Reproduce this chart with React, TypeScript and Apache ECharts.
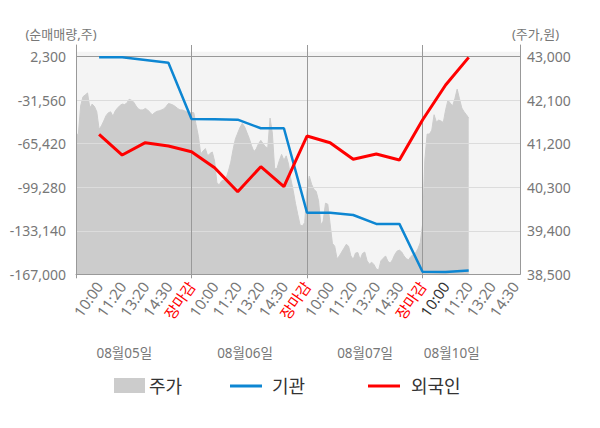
import React, { useEffect, useRef } from "react";
import * as echarts from "echarts";

// ---- data ----
const timeLabels = ["10:00", "11:20", "13:20", "14:30", "장마감"];
const dayLabels = ["08월05일", "08월06일", "08월07일", "08월10일"];
const slotsPerDay = 5;
const legendNames = ["주가", "기관", "외국인"];
const leftTicks = [-167000, -133140, -99280, -65420, -31560, 2300];
const rightTicks = [38500, 39400, 40300, 41200, 42100, 43000];

// net buying (shares) at each time slot, starting with 08/05 10:00
const institution = [
  1900, 1800, -270, -2370, -46170,
  -46400, -46700, -53400, -53400, -119070,
  -119070, -120860, -127800, -127800, -164970,
  -165200, -164000,
];
const foreign = [
  -58070, -74200, -64600, -67200, -71600,
  -84060, -102730, -83280, -98840, -59400,
  -64600, -77530, -73400, -78070, -46950,
  -19700, 1800,
];

// share price (KRW), sampled every 0.1 slot from 08/05 09:00
const priceStep = 0.1;
const price = [
  41420, 41380, 41980, 42170, 42210, 42250, 41940, 42020, 41970, 41860,
  41500, 41570, 41670, 41780, 41840, 41860, 41770, 41880, 41940, 41990,
  42020, 42010, 42040, 42120, 42100, 42060, 41980, 41920, 41900, 41900,
  41930, 41900, 41850, 41800, 41840, 41870, 41880, 41900, 41920, 41970,
  42030, 42020, 42000, 41970, 41930, 41900, 41900, 41880, 41860, 41830,
  41850, 41840, 41590, 41350, 40990, 41050, 41100, 40950, 41000, 41030,
  40840, 40390, 40350, 40430, 40450, 40490, 40640, 40820, 41080, 41300,
  41420, 41540, 41620, 41550, 41430, 41310, 41160, 41040, 41090, 41200,
  41270, 41200, 41140, 41110, 41730, 41420, 40680, 40690, 40850, 40980,
  40860, 40950, 40780, 40470, 40240, 39970, 39740, 39520, 39500, 39570,
  40240, 40530, 40360, 40260, 40210, 40020, 39520, 39600, 39970, 39950,
  39540, 39140, 39080, 38820, 38880, 38960, 39040, 39120, 39080, 38880,
  38810, 38940, 38950, 38800, 38930, 38960, 38780, 38710, 38750, 38700,
  38610, 38590, 38780, 38830, 38880, 38770, 38730, 38800, 38910, 38980,
  39000, 38960, 38880, 38820, 38800, 38870, 38910, 38940, 39030, 39150,
  39520, 40860, 41400, 41400, 41480, 41800, 41650, 41690, 41670, 41640,
  41900, 42100, 42040, 41980, 42130, 42330, 42130, 41940, 41860, 41800,
  41730,
];

const FONT = "'Noto Sans', 'Noto Sans CJK KR', sans-serif";
const BLUE = "#0d86d2";
const RED = "#ff0000";
const AREA = "#cccccc";
const AXIS = "#999999";
const LABEL = "#777777";

export default function App() {
  const ref = useRef<HTMLDivElement>(null);

  useEffect(() => {
    if (!ref.current) return;
    const chart = echarts.init(ref.current, undefined, { renderer: "svg" });

    const leftInterval = leftTicks[1] - leftTicks[0];
    const rightInterval = rightTicks[1] - rightTicks[0];
    const boundaries = [1, 2, 3].map((d) => d * slotsPerDay);

    const xLabel = (v: number) => {
      const s = Math.round(v);
      if (Math.abs(v - s) > 1e-6 || s <= 0) return "";
      const slot = (s - 1) % slotsPerDay;
      const text = timeLabels[slot];
      if (slot === slotsPerDay - 1) return `{close|${text}}`;
      if (s === 3 * slotsPerDay + 1) return `{today|${text}}`;
      return text;
    };

    const textEl = (text: string, x: number, y: number, align: string, size: number, color: string) => ({
      type: "text",
      silent: true,
      style: {
        text, x, y,
        textAlign: align, align,
        textVerticalAlign: "middle", verticalAlign: "middle",
        fill: color, fontSize: size, fontFamily: FONT,
      },
    });

    const option: any = {
      animation: false,
      textStyle: { fontFamily: FONT },
      grid: { left: 76, right: 80, top: 45, bottom: 153.7, containLabel: false },
      xAxis: {
        type: "value",
        min: 0,
        max: 19.22,
        interval: 1,
        z: 1.5,
        axisLine: { show: true, onZero: false, lineStyle: { color: AXIS, width: 1 } },
        axisTick: { show: true, customValues: [0, ...boundaries], length: 4, lineStyle: { color: AXIS } },
        splitLine: { show: false },
        axisLabel: {
          rotate: 55,
          margin: 9,
          fontSize: 15,
          color: LABEL,
          fontFamily: FONT,
          formatter: xLabel,
          rich: {
            close: { color: RED, fontSize: 15, fontFamily: FONT },
            today: { color: "#333333", fontSize: 15, fontFamily: FONT },
          },
        },
      },
      yAxis: [
        {
          type: "value",
          position: "left",
          min: leftTicks[0],
          max: 11403,
          interval: leftInterval,
          z: 1.5,
          axisLine: { show: true, onZero: false, lineStyle: { color: AXIS } },
          axisTick: { show: false },
          axisLabel: {
            margin: 10,
            fontSize: 14,
            color: LABEL,
            fontFamily: FONT,
            formatter: (v: number) => (v > leftTicks[leftTicks.length - 1] + 1 ? "" : v.toLocaleString("en-US")),
          },
          splitLine: {
            show: true,
            showMaxLine: false,
            lineStyle: { color: ["#dcdcdc", "#dcdcdc", "#dcdcdc", "#dcdcdc", "#dcdcdc", AXIS], width: 1 },
          },
        },
        {
          type: "value",
          position: "right",
          min: rightTicks[0],
          max: 43242,
          interval: rightInterval,
          z: 1.5,
          axisLine: { show: true, onZero: false, lineStyle: { color: AXIS } },
          axisTick: { show: false },
          axisLabel: {
            margin: 7,
            fontSize: 14,
            color: LABEL,
            fontFamily: FONT,
            formatter: (v: number) => (v > rightTicks[rightTicks.length - 1] + 1 ? "" : v.toLocaleString("en-US")),
          },
          splitLine: { show: false },
        },
      ],
      graphic: [
        {
          type: "rect",
          z: -1,
          silent: true,
          shape: { x: 76, y: 51.7, width: 444, height: 222.6 },
          style: { fill: "#f4f4f4" },
        },
        textEl("(순매매량,주)", 61, 34, "center", 13, LABEL),
        textEl("(주가,원)", 535.5, 34, "center", 13, LABEL),
        ...dayLabels.map((t, i) => textEl(t, [124.3, 245, 365, 451.7][i], 353, "center", 13.5, LABEL)),
        { type: "rect", silent: true, shape: { x: 114, y: 378, width: 31, height: 15 }, style: { fill: AREA } },
        textEl(legendNames[0], 149, 386, "left", 18, "#333333"),
        { type: "line", silent: true, shape: { x1: 230, y1: 386, x2: 262, y2: 386 }, style: { stroke: BLUE, lineWidth: 3 } },
        textEl(legendNames[1], 272, 386, "left", 18, "#333333"),
        { type: "line", silent: true, shape: { x1: 368, y1: 386, x2: 400, y2: 386 }, style: { stroke: RED, lineWidth: 3 } },
        textEl(legendNames[2], 411, 386, "left", 18, "#333333"),
      ],
      series: [
        {
          name: legendNames[0],
          type: "line",
          xAxisIndex: 0,
          yAxisIndex: 1,
          z: 1,
          symbol: "none",
          silent: true,
          data: price.map((p, k) => [k * priceStep, p]),
          lineStyle: { color: AREA, width: 1 },
          itemStyle: { color: AREA },
          areaStyle: { color: AREA, opacity: 1, origin: "start" },
          markLine: {
            silent: true,
            z: 2,
            symbol: ["none", "none"],
            label: { show: false },
            lineStyle: { color: AXIS, type: "solid", width: 1 },
            emphasis: { disabled: true },
            data: boundaries.map((b) => ({ xAxis: b })),
          },
        },
        {
          name: legendNames[1],
          type: "line",
          xAxisIndex: 0,
          yAxisIndex: 0,
          z: 3,
          symbol: "none",
          data: institution.map((v, i) => [i + 1, v]),
          lineStyle: { color: BLUE, width: 2.5 },
          itemStyle: { color: BLUE },
        },
        {
          name: legendNames[2],
          type: "line",
          xAxisIndex: 0,
          yAxisIndex: 0,
          z: 4,
          symbol: "none",
          data: foreign.map((v, i) => [i + 1, v]),
          lineStyle: { color: RED, width: 3 },
          itemStyle: { color: RED },
        },
      ],
    };

    chart.setOption(option);
    return () => chart.dispose();
  }, []);

  return (
    <div
      ref={ref}
      style={{ position: "absolute", left: 0, top: 0, width: 600, height: 428, background: "#ffffff" }}
    />
  );
}
